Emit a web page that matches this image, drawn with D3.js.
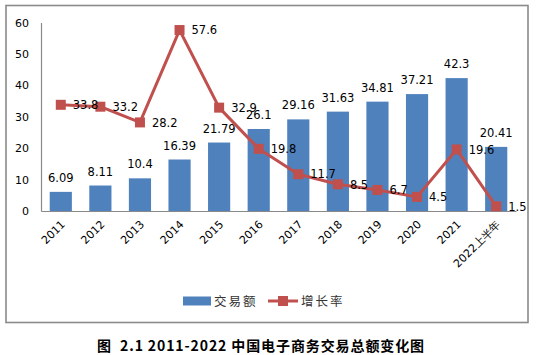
<!DOCTYPE html>
<html><head><meta charset="utf-8">
<script src="https://cdn.jsdelivr.net/npm/d3@7"></script>
<style>body{margin:0;background:#fff}svg{display:block}</style>
</head><body>
<script>
const categories = ["2011","2012","2013","2014","2015","2016","2017","2018","2019","2020","2021","2022上半年"];
const tradeVolume = [6.09, 8.11, 10.4, 16.39, 21.79, 26.1, 29.16, 31.63, 34.81, 37.21, 42.3, 20.41];
const growthRate = [33.8, 33.2, 28.2, 57.6, 32.9, 19.8, 11.7, 8.5, 6.7, 4.5, 19.6, 1.5];
const yTicks = [0, 10, 20, 30, 40, 50, 60];
const seriesNames = ["交易额", "增长率"];
const title = "图  2.1 2011-2022 中国电子商务交易总额变化图";

const W = 539, H = 355;
const svg = d3.select("body").append("svg").attr("width", W).attr("height", H);
const font = "'DejaVu Sans', Verdana, sans-serif";
const cjk = "'Noto Sans CJK SC', sans-serif";
const barColor = "#4F81BD", lineColor = "#C0504D";

// outer frame
svg.append("rect").attr("x", 6).attr("y", 5.5).attr("width", 522).attr("height", 317)
  .attr("fill", "none").attr("stroke", "#8a8a8a").attr("stroke-width", 1.6);

const x = d3.scaleBand().domain(categories).range([41, 516]).paddingInner(0.44).paddingOuter(0.22);
const xc = d => x(d) + x.bandwidth() / 2;
const y = d3.scaleLinear().domain([0, 60]).range([211, 22.5]);

// y axis
const yAxis = svg.append("g").attr("transform", "translate(41,0)")
  .call(d3.axisLeft(y).tickValues(yTicks).tickSize(0).tickPadding(12));
yAxis.select(".domain").attr("stroke", "#8a8a8a").attr("stroke-width", 1.2);
yAxis.selectAll("text").attr("font-family", font).attr("font-size", 11).attr("fill", "#000");

// bars
svg.selectAll("rect.bar").data(tradeVolume).join("rect").attr("class", "bar")
  .attr("x", (d, i) => x(categories[i])).attr("width", x.bandwidth())
  .attr("y", d => y(d)).attr("height", d => y(0) - y(d)).attr("fill", barColor);

// x axis
const xAxis = svg.append("g").attr("transform", "translate(0,211)")
  .call(d3.axisBottom(x).tickSize(0).tickSizeOuter(0));
xAxis.select(".domain").attr("stroke", "#8a8a8a").attr("stroke-width", 1.2);
xAxis.selectAll("text").attr("font-family", font).attr("font-size", 11).attr("fill", "#000")
  .attr("text-anchor", "end").attr("dy", 0).attr("y", 0)
  .attr("transform", "translate(5,14) rotate(-45)");

// bar labels
svg.selectAll("text.bl").data(tradeVolume).join("text").attr("class", "bl")
  .attr("x", (d, i) => xc(categories[i])).attr("y", d => y(d) - 10)
  .attr("text-anchor", "middle").attr("font-family", font).attr("font-size", 11.5)
  .text(d => d);

// line
const line = d3.line().x((d, i) => xc(categories[i])).y(d => y(d));
svg.append("path").datum(growthRate).attr("d", line).attr("fill", "none")
  .attr("stroke", lineColor).attr("stroke-width", 3).attr("stroke-linejoin", "round");
svg.selectAll("rect.mk").data(growthRate).join("rect").attr("class", "mk")
  .attr("x", (d, i) => xc(categories[i]) - 5).attr("y", d => y(d) - 5)
  .attr("width", 10).attr("height", 10).attr("fill", lineColor);
svg.selectAll("text.ll").data(growthRate).join("text").attr("class", "ll")
  .attr("x", (d, i) => xc(categories[i]) + 12).attr("y", d => y(d)).attr("dy", "0.37em")
  .attr("font-family", font).attr("font-size", 11.5).text(d => d);

// legend
const lg = svg.append("g");
lg.append("rect").attr("x", 183).attr("y", 296.5).attr("width", 28).attr("height", 9).attr("fill", barColor);
lg.append("text").attr("x", 214).attr("y", 301).attr("dy", "0.36em").attr("font-family", cjk)
  .attr("font-size", 12.5).attr("fill", "#333").attr("letter-spacing", 2).text(seriesNames[0]);
lg.append("line").attr("x1", 268).attr("x2", 298).attr("y1", 301).attr("y2", 301)
  .attr("stroke", lineColor).attr("stroke-width", 3);
lg.append("rect").attr("x", 278).attr("y", 296).attr("width", 10).attr("height", 10).attr("fill", lineColor);
lg.append("text").attr("x", 301).attr("y", 301).attr("dy", "0.36em").attr("font-family", cjk)
  .attr("font-size", 12.5).attr("fill", "#333").attr("letter-spacing", 2).text(seriesNames[1]);

// title
svg.append("text").attr("x", 261).attr("y", 346).attr("dy", "0.35em").attr("text-anchor", "middle")
  .attr("font-family", cjk).attr("font-weight", "bold").attr("font-size", 14).attr("letter-spacing", 0.9)
  .style("white-space", "pre").text(title);
</script>
</body></html>
